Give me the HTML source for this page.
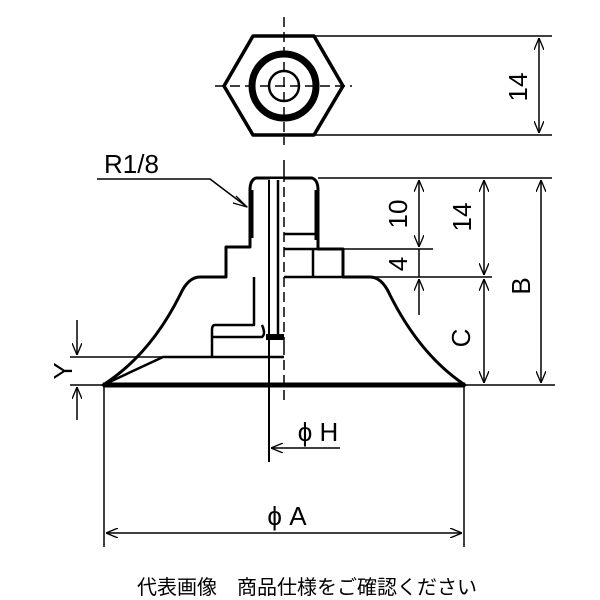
<!DOCTYPE html>
<html><head><meta charset="utf-8"><style>
html,body{margin:0;padding:0;background:#fff;width:600px;height:600px;overflow:hidden}
svg{display:block}
text{font-family:"Liberation Sans","Noto Sans CJK JP",sans-serif;fill:#000}
</style></head><body>
<svg width="600" height="600" viewBox="0 0 600 600" xmlns="http://www.w3.org/2000/svg">
<defs>
<marker id="a" markerWidth="12" markerHeight="10" refX="12" refY="5" orient="auto-start-reverse" markerUnits="userSpaceOnUse">
<path d="M0,0 L12,5 L0,10" fill="none" stroke="#000" stroke-width="1.3"/>
</marker>
</defs>
<g fill="none" stroke="#000" stroke-linejoin="round">
<polygon points="253,36 314,36 343,86 314,135 253,135 224,86" stroke-width="3.5"/>
<circle cx="284" cy="86" r="32" stroke-width="7"/>
<circle cx="284" cy="86" r="15" stroke-width="2.5"/>
<line x1="284" y1="17" x2="284" y2="145" stroke-width="1.5" stroke-dasharray="10,5"/>
<line x1="215" y1="86" x2="352" y2="86" stroke-width="1.5" stroke-dasharray="10,5"/>
<line x1="314" y1="36" x2="552" y2="36" stroke-width="1.5"/>
<line x1="314" y1="135" x2="552" y2="135" stroke-width="1.5"/>
<line x1="539" y1="38" x2="539" y2="133" stroke-width="1.5" marker-start="url(#a)" marker-end="url(#a)"/>

<line x1="284" y1="160" x2="284" y2="172" stroke-width="1.5"/>
<line x1="284" y1="345" x2="284" y2="405" stroke-width="1.5" stroke-dasharray="10,5"/>
<path d="M270,178 L256,178 Q250,180 250,190 L250,247 L226,247 L226,277 L200,277 Q188,277 180,295 Q150,355 103,385 L465,385 Q420,355 390,295 Q382,277 370,277 L343,277 L343,249 L318,249 L318,190 Q318,180 312,178 Z" stroke-width="3"/>
<line x1="251" y1="190" x2="251" y2="238" stroke-width="5"/>
<line x1="317" y1="190" x2="317" y2="240" stroke-width="5"/>
<line x1="103" y1="385" x2="465" y2="385" stroke-width="5"/>
<rect x="270" y="179" width="14" height="160" fill="#fff" stroke="none"/>
<line x1="269" y1="180" x2="269" y2="462" stroke-width="2"/>
<line x1="278" y1="180" x2="278" y2="336" stroke-width="2.5"/>
<line x1="284" y1="172" x2="284" y2="345" stroke-width="1.5" stroke-dasharray="10,5"/>
<path d="M284,234 L318,234" stroke-width="2.5"/>
<path d="M284,249 L343,249 M284,277 L343,277 M313,249 L313,277" stroke-width="2.5"/>
<path d="M254,277 L254,325 L215,325 Q212,325 212,330 L212,357" stroke-width="2.5"/>
<path d="M212,337 L262,337 Q266,334 262,325" stroke-width="2.5"/>
<rect x="266" y="334" width="18" height="6" fill="#000" stroke="none"/>
<path d="M103,385 L163,357 L284,357" stroke-width="2.5"/>
<path d="M97,179 L210,179 L247,207" stroke-width="1.5"/>
<path d="M236,196 L247,207 L233,203" stroke-width="1.3"/>
<line x1="318" y1="178" x2="552" y2="178" stroke-width="1.5"/>
<line x1="343" y1="249" x2="433" y2="249" stroke-width="1.5"/>
<line x1="370" y1="277" x2="492" y2="277" stroke-width="1.5"/>
<line x1="465" y1="385" x2="555" y2="385" stroke-width="1.5"/>
<line x1="419" y1="180" x2="419" y2="247" stroke-width="1.5" marker-start="url(#a)" marker-end="url(#a)"/>
<line x1="419" y1="249" x2="419" y2="277" stroke-width="1.5"/>
<line x1="419" y1="279" x2="419" y2="315" stroke-width="1.5" marker-start="url(#a)"/>
<line x1="484" y1="180" x2="484" y2="275" stroke-width="1.5" marker-start="url(#a)" marker-end="url(#a)"/>
<line x1="484" y1="279" x2="484" y2="383" stroke-width="1.5" marker-start="url(#a)" marker-end="url(#a)"/>
<line x1="541" y1="180" x2="541" y2="383" stroke-width="1.5" marker-start="url(#a)" marker-end="url(#a)"/>
<line x1="70" y1="357" x2="212" y2="357" stroke-width="1.5"/>
<line x1="70" y1="385" x2="103" y2="385" stroke-width="1.5"/>
<line x1="77" y1="320" x2="77" y2="355" stroke-width="1.5" marker-end="url(#a)"/>
<line x1="77" y1="420" x2="77" y2="387" stroke-width="1.5" marker-end="url(#a)"/>
<line x1="340" y1="448" x2="271" y2="448" stroke-width="1.5" marker-end="url(#a)"/>
<line x1="104" y1="387" x2="104" y2="547" stroke-width="1.5"/>
<line x1="464" y1="387" x2="464" y2="547" stroke-width="1.5"/>
<line x1="106" y1="533" x2="462" y2="533" stroke-width="1.5" marker-start="url(#a)" marker-end="url(#a)"/>
</g>
<g font-size="26">
<text x="104" y="173">R1/8</text>
<text transform="translate(527,87) rotate(-90)" text-anchor="middle">14</text>
<text transform="translate(407,214) rotate(-90)" text-anchor="middle">10</text>
<text transform="translate(407,264) rotate(-90)" text-anchor="middle">4</text>
<text transform="translate(471,217) rotate(-90)" text-anchor="middle">14</text>
<text transform="translate(470,338) rotate(-90)" text-anchor="middle">C</text>
<text transform="translate(530,286) rotate(-90)" text-anchor="middle">B</text>
<text transform="translate(72,371) rotate(-90)" text-anchor="middle">Y</text>
<text x="318" y="441" text-anchor="middle">ϕ H</text>
<text x="287" y="525" text-anchor="middle">ϕ A</text>
</g>
<text x="307" y="594" font-size="20" text-anchor="middle">代表画像　商品仕様をご確認ください</text>
</svg>
</body></html>
